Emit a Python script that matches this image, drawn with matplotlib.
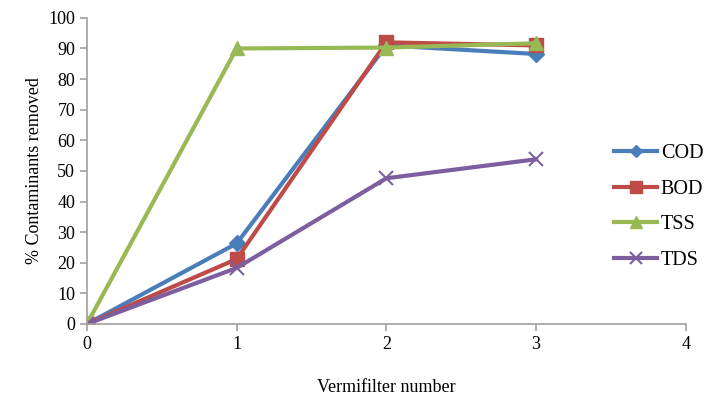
import matplotlib
matplotlib.use("Agg")
import matplotlib.pyplot as plt

plt.rcParams['font.family'] = ['Liberation Serif', 'DejaVu Serif']

stages = [0, 1, 2, 3]
cod = [0, 26.3, 91.0, 88.2]
bod = [0, 21.2, 92.0, 91.0]
tss = [0, 90.0, 90.3, 91.7]
tds = [0, 18.3, 47.6, 53.8]

series = [
    ("COD", cod, "#4a7ebb", "D", 8),
    ("BOD", bod, "#be4b48", "s", 10),
    ("TSS", tss, "#98b954", "^", 10),
    ("TDS", tds, "#7d5fa0", "x", 10),
]

fig = plt.figure(figsize=(7.07, 3.97), dpi=100)
ax = fig.add_axes([0.123, 0.184, 0.847, 0.771])

for name, vals, col, mk, ms in series:
    kw = dict(markeredgewidth=1.5) if mk == "x" else dict(markeredgecolor=col)
    ax.plot(stages, vals, color=col, lw=3, marker=mk, markersize=ms,
            markerfacecolor=col, label=name, **kw)

ax.set_xlim(0, 4)
ax.set_ylim(0, 100)
ax.set_xticks([0, 1, 2, 3, 4])
ax.set_yticks(range(0, 101, 10))
for s in ["top", "right"]:
    ax.spines[s].set_visible(False)
for s in ["left", "bottom"]:
    ax.spines[s].set_color("#a0a0a0")
    ax.spines[s].set_linewidth(1.2)
ax.tick_params(colors="#a0a0a0", labelcolor="black", labelsize=13, length=5, width=1.2)
ax.set_xlabel("Vermifilter number", fontsize=13, labelpad=19)
ax.set_ylabel("% Contaminants removed", fontsize=13)

fig.legend(loc="center left", bbox_to_anchor=(0.869, 0.479), frameon=False,
           fontsize=14.5, handlelength=2.1, handletextpad=0.2, labelspacing=0.82,
           borderpad=0, borderaxespad=0, markerscale=0.8)

fig.savefig("out.png", dpi=100)
